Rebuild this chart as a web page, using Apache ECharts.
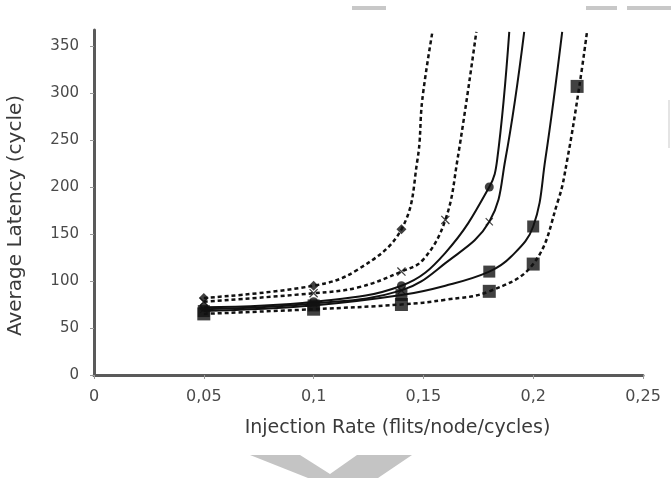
<!DOCTYPE html>
<html>
<head>
<meta charset="utf-8">
<script src="https://cdn.jsdelivr.net/npm/echarts@6/dist/echarts.min.js"></script>
<style>
html,body{margin:0;padding:0;background:#fff;}
#chart{width:671px;height:478px;}
</style>
</head>
<body>
<div id="chart"></div>
<script>
// Axis ticks
const xTicks = [0, 0.05, 0.1, 0.15, 0.2, 0.25];
const yTicks = [0, 50, 100, 150, 200, 250, 300, 350];

// Curve traces [injection rate, latency]
const curve1 = [[0.05,82],[0.1,95],[0.12,112],[0.14,155],[0.1473,229],[0.1495,293],[0.1541,365]];
const curve2 = [[0.05,78],[0.1,87],[0.12,93],[0.14,110],[0.15,123],[0.16,165],[0.1655,229],[0.1741,365]];
const curve3 = [[0.05,72],[0.1,78],[0.14,95],[0.16,130],[0.18,200],[0.1836,229],[0.1891,365]];
const curve4 = [[0.05,70],[0.1,76],[0.14,90],[0.16,119],[0.18,163],[0.1873,229],[0.1959,365]];
const curve5 = [[0.05,68],[0.1,74],[0.14,85],[0.16,95],[0.18,110],[0.19,126],[0.2,158],[0.2055,229],[0.2132,365]];
const curve6 = [[0.05,65],[0.1,70],[0.14,75],[0.16,80],[0.18,89],[0.2,118],[0.2114,186],[0.2155,229],[0.221,307],[0.2245,365]];

// Measured points (markers)
const marks1 = [[0.05,82],[0.1,95],[0.14,155]];
const marks2 = [[0.05,78],[0.1,87],[0.14,110],[0.16,165]];
const marks3 = [[0.05,72],[0.1,78],[0.14,95],[0.18,200]];
const marks4 = [[0.05,70],[0.1,76],[0.14,90],[0.18,163]];
const marks5 = [[0.05,68],[0.1,74],[0.14,85],[0.18,110],[0.2,158]];
const marks6 = [[0.05,65],[0.1,70],[0.14,75],[0.18,89],[0.2,118],[0.22,307]];

const xSym = 'path://M1,0L10,9L9,10L0,1Z M9,0L10,1L1,10L0,9Z';
const ink = '#111';

function lineS(data, dashed){
  return {type:'line', data:data, smooth:0.4, showSymbol:false, symbol:'none',
    lineStyle:{color:ink, width: dashed?2.5:2, type: dashed?[4,3]:'solid'}, z:2, silent:true};
}
function markS(data, sym, size){
  return {type:'scatter', data:data, symbol:sym, symbolSize:size,
    itemStyle:{color:ink}, z:3, silent:true};
}
function fmtX(v){
  const s = (+v.toFixed(2)).toString();
  return s.replace('.', ',');
}

const chart = echarts.init(document.getElementById('chart'));
chart.setOption({
  animation:false,
  backgroundColor:'#fff',
  grid:{left:94, right:28, top:30, bottom:103, outerBoundsMode:'none', containLabel:false},
  xAxis:{
    type:'value', min:0, max:0.25, interval:0.05,
    name:'Injection Rate (flits/node/cycles)', nameLocation:'middle', nameGap:44,
    nameTextStyle:{fontFamily:'DejaVu Sans', fontSize:19, color:'#3a3a3a', padding:[0,0,0,58]},
    axisLine:{show:true, lineStyle:{color:'#5a5a5a', width:3}},
    axisTick:{show:true, length:4, lineStyle:{color:'#999', width:1}, customValues:xTicks},
    axisLabel:{fontFamily:'DejaVu Sans', fontSize:16, color:'#4a4a4a', margin:14, formatter:fmtX, customValues:xTicks},
    splitLine:{show:false}
  },
  yAxis:{
    type:'value', min:0, max:367, interval:50,
    name:'Average Latency (cycle)', nameLocation:'middle', nameGap:68,
    nameTextStyle:{fontFamily:'DejaVu Sans', fontSize:20, color:'#3a3a3a', padding:[0,26,0,0]},
    axisLine:{show:true, lineStyle:{color:'#5a5a5a', width:3}},
    axisTick:{show:true, length:4, lineStyle:{color:'#999', width:1}, customValues:yTicks},
    axisLabel:{fontFamily:'DejaVu Sans', fontSize:15, color:'#4a4a4a', margin:15, customValues:yTicks,
      formatter:function(v){return (v%50===0)?String(v):'';}},
    splitLine:{show:false}
  },
  graphic:[
    {type:'rect', shape:{x:352,y:6,width:34,height:4}, style:{fill:'#c8c8c8'}},
    {type:'rect', shape:{x:586,y:6,width:31,height:4}, style:{fill:'#c8c8c8'}},
    {type:'rect', shape:{x:627,y:6,width:44,height:4}, style:{fill:'#c8c8c8'}},
    {type:'rect', shape:{x:668,y:100,width:2,height:48}, style:{fill:'#e4e4e4'}},
    {type:'polygon', shape:{points:[[250,455],[300,455],[330,474],[357,455],[412,455],[378,478],[308,478]]}, style:{fill:'#c4c4c4'}}
  ],
  series:[
    lineS(curve1,true), lineS(curve2,true), lineS(curve3,false),
    lineS(curve4,false), lineS(curve5,false), lineS(curve6,true),
    markS(marks1,'diamond',10), markS(marks2,xSym,9), markS(marks3,'circle',9),
    markS(marks4,xSym,8), markS(marks5,'rect',12), markS(marks6,'rect',13)
  ]
});
</script>
</body>
</html>
